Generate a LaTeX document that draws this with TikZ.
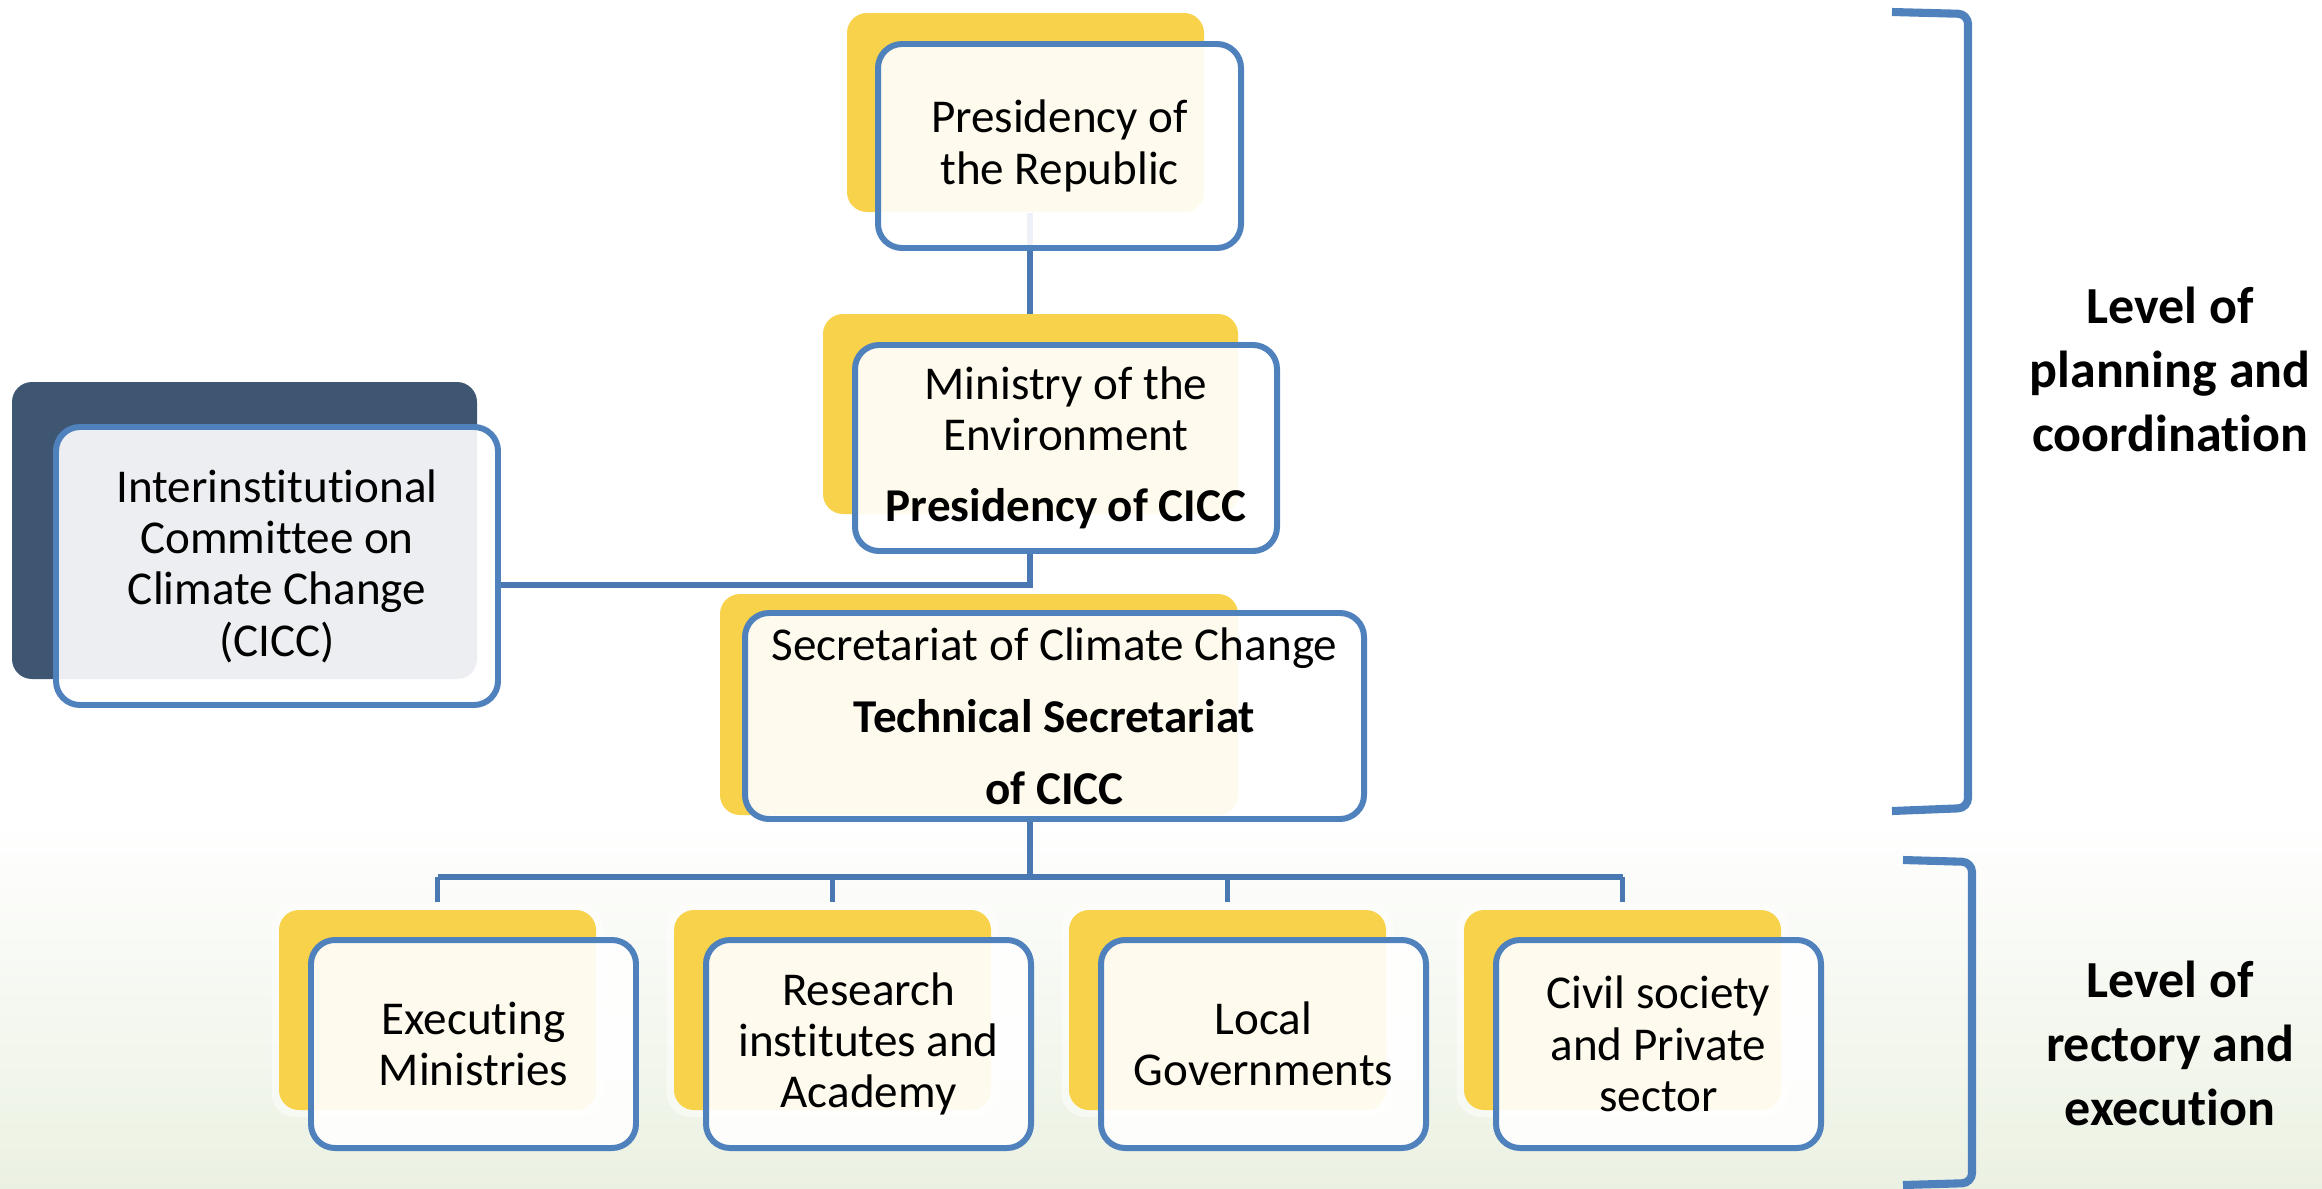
\documentclass[tikz,border=0pt]{standalone}
\usepackage{fontspec}
\setmainfont[Ligatures={NoCommon}]{Carlito}
\usetikzlibrary{calc}
\definecolor{boxblue}{HTML}{4F81BD}
\definecolor{linkblue}{HTML}{4A78B2}
\definecolor{gold}{HTML}{F7D24A}
\definecolor{navy}{HTML}{3F5673}
\definecolor{grass}{HTML}{EBF1E2}
\pgfdeclarelayer{bg}
\pgfdeclarelayer{lines}
\pgfsetlayers{bg,lines,main}
\newcommand{\boxfont}{\fontsize{13.4pt}{14.6pt}\selectfont}
\newcommand{\levelfont}{\bfseries\fontsize{14.8pt}{18.2pt}\selectfont}
\begin{document}
\begin{tikzpicture}[x=0.1mm,y=-0.1mm,
  back/.style={draw=none,rounded corners=2mm,inner sep=0pt},
  front/.style={draw=boxblue,line width=1.7pt,fill=white,fill opacity=0.9,
    text opacity=1,rounded corners=2.4mm,align=center,font=\boxfont,inner sep=0pt},
  link/.style={draw=linkblue,line width=1.5pt},
  bracket/.style={draw=boxblue,line width=2.3pt,rounded corners=1mm},
  level/.style={align=center,font=\levelfont,inner sep=0pt},
  halo/.style={fill=white,opacity=0.5,rounded corners=2.4mm}]
\useasboundingbox (0,0) rectangle (2322,1188);

% soft green ground at the bottom
\begin{pgfonlayer}{bg}
  \fill[white] (0,0) rectangle (2322,1188);
  \shade[top color=white,bottom color=grass] (0,820) rectangle (2322,1188);
\end{pgfonlayer}

% top chain
\node[back,fill=gold,minimum width=35.7mm,minimum height=19.9mm] (presBk) at (1025.5,112.5) {};
\node[front,minimum width=36.3mm,minimum height=20.4mm] (pres) at (1059.5,146) {Presidency of\\the Republic};

\node[back,fill=gold,minimum width=41.5mm,minimum height=20mm] (miniBk) at (1030.5,414) {};
\node[front,minimum width=42.2mm,minimum height=20.6mm] (mini) at (1066,448)
  {Ministry of the\\Environment\\[5.7pt]\textbf{Presidency of CICC}};

\node[back,fill=navy,minimum width=46.5mm,minimum height=29.7mm] (ciccBk) at (244.5,530.5) {};
\node[front,minimum width=44.2mm,minimum height=27.8mm] (cicc) at (277,566)
  {Interinstitutional\\Committee on\\Climate Change\\(CICC)};

\node[back,fill=gold,minimum width=51.8mm,minimum height=22.1mm] (secrBk) at (979,704.5) {};
\node[front,minimum width=61.9mm,minimum height=20.6mm] (secr) at (1054.5,716)
  {Secretariat of Climate Change\\[5.9pt]\textbf{Technical Secretariat}\\[5.9pt]\textbf{of CICC}};

% bottom row
\foreach \k/\txt in {1/{Executing\\Ministries},2/{Research\\institutes and\\Academy},
                     3/{Local\\Governments},4/{Civil society\\and Private\\sector}}{
  \pgfmathsetmacro{\bx}{437.5+395*(\k-1)}
  \pgfmathsetmacro{\fx}{473.5+395*(\k-1)}
  \fill[halo] (\bx-166,903) rectangle (\bx+166,1117);
  \node[back,fill=gold,minimum width=31.7mm,minimum height=20mm] (b\k Bk) at (\bx,1010) {};
  \node[front,minimum width=32.5mm,minimum height=20.8mm] (b\k) at (\fx,1044) {\txt};
}

% connectors
\coordinate (trunk) at (1030,0);
\coordinate (elbow) at (1030,585);
\coordinate (bus) at (0,877);
\begin{pgfonlayer}{lines}
  \draw[link] (presBk.south -| trunk) -- (mini.north -| trunk);
  \draw[link] (mini.south -| trunk) -- (elbow) -- (elbow -| cicc.east);
  \draw[link] (secr.south -| trunk) -- (bus -| trunk);
  \draw[link] (bus -| b1Bk.north) -- (bus -| b4Bk.north);
  \foreach \k in {1,2,3,4}{
    \draw[link] (bus -| b\k Bk.north) -- ($(b\k Bk.north)+(0,-7)$);
  }
\end{pgfonlayer}

% level brackets and labels
\draw[bracket] (1892,12) -- (1968,14) -- (1968,808) -- (1892,811);
\draw[bracket] (1903,860) -- (1972,862) -- (1972,1183) -- (1903,1185);
\node[level] (lvlA) at (2170,369) {Level of\\planning and\\coordination};
\node[level] (lvlB) at (2170,1043) {Level of\\rectory and\\execution};
\end{tikzpicture}
\end{document}
